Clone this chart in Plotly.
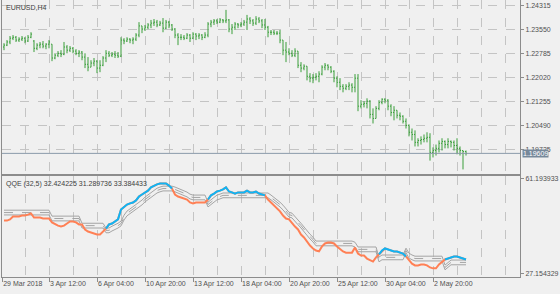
import plotly.graph_objects as go

# ---------------- data ----------------
open_ = [
    1.2299, 1.2305, 1.2315, 1.2327, 1.2330, 1.2321, 1.2324, 1.2327, 1.2318, 1.2330,
    1.2318, 1.2295, 1.2305, 1.2308, 1.2302, 1.2308, 1.2308, 1.2264, 1.2273, 1.2279,
    1.2276, 1.2299, 1.2289, 1.2295, 1.2286, 1.2279, 1.2283, 1.2267, 1.2244, 1.2235,
    1.2248, 1.2254, 1.2232, 1.2241, 1.2264, 1.2279, 1.2273, 1.2276, 1.2273, 1.2270,
    1.2321, 1.2318, 1.2324, 1.2321, 1.2324, 1.2337, 1.2366, 1.2356, 1.2362, 1.2369,
    1.2375, 1.2378, 1.2369, 1.2375, 1.2359, 1.2378, 1.2369, 1.2356, 1.2337, 1.2330,
    1.2330, 1.2327, 1.2337, 1.2327, 1.2340, 1.2334, 1.2337, 1.2330, 1.2337, 1.2372,
    1.2378, 1.2382, 1.2378, 1.2385, 1.2382, 1.2385, 1.2356, 1.2362, 1.2372, 1.2369,
    1.2372, 1.2378, 1.2388, 1.2382, 1.2375, 1.2388, 1.2382, 1.2369, 1.2362, 1.2346,
    1.2346, 1.2343, 1.2343, 1.2321, 1.2289, 1.2283, 1.2279, 1.2273, 1.2286, 1.2241,
    1.2232, 1.2238, 1.2206, 1.2200, 1.2203, 1.2206, 1.2213, 1.2235, 1.2241, 1.2235,
    1.2222, 1.2200, 1.2187, 1.2174, 1.2168, 1.2174, 1.2178, 1.2171, 1.2200, 1.2111,
    1.2117, 1.2120, 1.2127, 1.2085, 1.2072, 1.2104, 1.2123, 1.2133, 1.2130, 1.2111,
    1.2091, 1.2098, 1.2082, 1.2079, 1.2063, 1.2050, 1.2028, 1.2021, 1.1996, 1.2002,
    1.2005, 1.2009, 1.2012, 1.1964, 1.1970, 1.1977, 1.1993, 1.1999, 1.1989, 1.1999,
    1.1996, 1.1986, 1.1977, 1.1970, 1.1967,
]
high = [
    1.2311, 1.2321, 1.2334, 1.2337, 1.2334, 1.2330, 1.2334, 1.2330, 1.2337, 1.2346,
    1.2321, 1.2311, 1.2315, 1.2318, 1.2311, 1.2321, 1.2308, 1.2279, 1.2286, 1.2289,
    1.2315, 1.2305, 1.2302, 1.2299, 1.2292, 1.2289, 1.2286, 1.2279, 1.2267, 1.2257,
    1.2264, 1.2257, 1.2257, 1.2270, 1.2289, 1.2286, 1.2283, 1.2286, 1.2283, 1.2330,
    1.2327, 1.2330, 1.2327, 1.2330, 1.2343, 1.2378, 1.2366, 1.2369, 1.2375, 1.2385,
    1.2388, 1.2385, 1.2382, 1.2391, 1.2385, 1.2382, 1.2372, 1.2359, 1.2343, 1.2340,
    1.2337, 1.2343, 1.2340, 1.2346, 1.2343, 1.2343, 1.2340, 1.2346, 1.2378, 1.2385,
    1.2388, 1.2388, 1.2391, 1.2388, 1.2417, 1.2388, 1.2372, 1.2378, 1.2375, 1.2378,
    1.2385, 1.2401, 1.2394, 1.2388, 1.2397, 1.2394, 1.2388, 1.2388, 1.2366, 1.2353,
    1.2353, 1.2350, 1.2353, 1.2321, 1.2315, 1.2295, 1.2289, 1.2295, 1.2286, 1.2251,
    1.2244, 1.2238, 1.2216, 1.2213, 1.2216, 1.2222, 1.2241, 1.2248, 1.2244, 1.2238,
    1.2225, 1.2206, 1.2200, 1.2181, 1.2181, 1.2187, 1.2184, 1.2213, 1.2213, 1.2130,
    1.2127, 1.2136, 1.2130, 1.2104, 1.2111, 1.2130, 1.2136, 1.2136, 1.2133, 1.2117,
    1.2111, 1.2098, 1.2091, 1.2082, 1.2072, 1.2053, 1.2040, 1.2034, 1.2009, 1.2015,
    1.2021, 1.2028, 1.2025, 1.1980, 1.1989, 1.2002, 1.2009, 1.2002, 1.2009, 1.2002,
    1.2002, 1.2009, 1.1983, 1.1970, 1.1970,
]
low = [
    1.2289, 1.2302, 1.2308, 1.2321, 1.2315, 1.2315, 1.2318, 1.2311, 1.2315, 1.2327,
    1.2283, 1.2289, 1.2295, 1.2295, 1.2292, 1.2295, 1.2254, 1.2260, 1.2267, 1.2267,
    1.2273, 1.2279, 1.2283, 1.2279, 1.2273, 1.2267, 1.2257, 1.2232, 1.2222, 1.2235,
    1.2238, 1.2216, 1.2219, 1.2238, 1.2251, 1.2267, 1.2267, 1.2264, 1.2264, 1.2267,
    1.2308, 1.2315, 1.2311, 1.2308, 1.2318, 1.2330, 1.2343, 1.2350, 1.2356, 1.2359,
    1.2366, 1.2362, 1.2366, 1.2346, 1.2356, 1.2359, 1.2350, 1.2327, 1.2305, 1.2321,
    1.2321, 1.2324, 1.2315, 1.2324, 1.2321, 1.2324, 1.2321, 1.2327, 1.2330, 1.2362,
    1.2369, 1.2372, 1.2375, 1.2375, 1.2375, 1.2346, 1.2340, 1.2353, 1.2359, 1.2362,
    1.2366, 1.2353, 1.2372, 1.2366, 1.2369, 1.2375, 1.2359, 1.2353, 1.2330, 1.2337,
    1.2337, 1.2337, 1.2311, 1.2273, 1.2251, 1.2273, 1.2267, 1.2267, 1.2232, 1.2219,
    1.2225, 1.2193, 1.2187, 1.2184, 1.2193, 1.2187, 1.2209, 1.2225, 1.2225, 1.2216,
    1.2187, 1.2171, 1.2162, 1.2155, 1.2162, 1.2162, 1.2155, 1.2155, 1.2095, 1.2104,
    1.2107, 1.2104, 1.2072, 1.2056, 1.2072, 1.2098, 1.2117, 1.2120, 1.2098, 1.2079,
    1.2066, 1.2072, 1.2066, 1.2056, 1.2040, 1.2015, 1.2002, 1.1983, 1.1983, 1.1989,
    1.1996, 1.1996, 1.1938, 1.1948, 1.1954, 1.1964, 1.1970, 1.1977, 1.1977, 1.1980,
    1.1970, 1.1958, 1.1954, 1.1910, 1.1954,
]
close = [
    1.2305, 1.2315, 1.2327, 1.2330, 1.2321, 1.2324, 1.2327, 1.2318, 1.2330, 1.2340,
    1.2295, 1.2305, 1.2308, 1.2302, 1.2308, 1.2315, 1.2264, 1.2273, 1.2279, 1.2276,
    1.2299, 1.2289, 1.2295, 1.2286, 1.2279, 1.2283, 1.2267, 1.2244, 1.2235, 1.2248,
    1.2254, 1.2232, 1.2241, 1.2264, 1.2279, 1.2273, 1.2276, 1.2273, 1.2270, 1.2321,
    1.2318, 1.2324, 1.2321, 1.2324, 1.2337, 1.2366, 1.2356, 1.2362, 1.2369, 1.2375,
    1.2378, 1.2369, 1.2375, 1.2359, 1.2378, 1.2369, 1.2356, 1.2337, 1.2330, 1.2330,
    1.2327, 1.2337, 1.2327, 1.2340, 1.2334, 1.2337, 1.2330, 1.2337, 1.2372, 1.2378,
    1.2382, 1.2378, 1.2385, 1.2382, 1.2385, 1.2356, 1.2362, 1.2372, 1.2369, 1.2372,
    1.2378, 1.2388, 1.2382, 1.2375, 1.2388, 1.2382, 1.2369, 1.2362, 1.2346, 1.2346,
    1.2343, 1.2343, 1.2321, 1.2289, 1.2283, 1.2279, 1.2273, 1.2286, 1.2241, 1.2232,
    1.2238, 1.2206, 1.2200, 1.2203, 1.2206, 1.2213, 1.2235, 1.2241, 1.2235, 1.2222,
    1.2200, 1.2187, 1.2174, 1.2168, 1.2174, 1.2178, 1.2171, 1.2200, 1.2111, 1.2117,
    1.2120, 1.2127, 1.2085, 1.2072, 1.2104, 1.2123, 1.2133, 1.2130, 1.2111, 1.2091,
    1.2098, 1.2082, 1.2079, 1.2063, 1.2050, 1.2028, 1.2021, 1.1996, 1.2002, 1.2005,
    1.2009, 1.2012, 1.1964, 1.1970, 1.1977, 1.1993, 1.1999, 1.1989, 1.1999, 1.1996,
    1.1986, 1.1977, 1.1970, 1.1967, 1.19609,
]

qqe_main = [
    46.0, 46.0, 46.4, 47.4, 47.4, 47.4, 47.7, 47.7, 48.0, 48.4,
    47.0, 47.0, 47.0, 46.7, 46.7, 46.7, 45.4, 44.7, 44.3, 44.0,
    44.3, 45.0, 45.7, 45.7, 45.4, 44.7, 44.7, 43.0, 42.3, 42.0,
    41.6, 41.3, 41.3, 42.3, 43.3, 44.7, 45.0, 45.7, 46.4, 49.7,
    50.7, 51.4, 51.8, 52.1, 52.8, 54.1, 54.8, 55.5, 56.1, 57.2,
    57.8, 58.2, 58.5, 58.5, 58.5, 57.8, 56.8, 54.8, 54.1, 53.8,
    53.4, 53.1, 52.1, 51.8, 52.1, 52.1, 52.1, 52.1, 53.1, 54.5,
    55.1, 55.8, 56.1, 56.5, 57.2, 55.8, 55.5, 55.1, 55.5, 55.5,
    55.5, 56.1, 55.5, 55.5, 55.8, 55.1, 54.8, 54.5, 53.1, 52.1,
    51.4, 50.4, 49.1, 47.7, 46.7, 46.4, 45.0, 44.0, 43.0, 41.3,
    40.3, 38.9, 37.6, 36.6, 35.9, 35.6, 37.3, 38.3, 38.6, 38.6,
    38.3, 37.3, 36.3, 35.6, 35.2, 35.2, 35.2, 36.9, 34.9, 34.2,
    34.2, 33.2, 32.6, 32.2, 33.6, 34.6, 35.9, 36.6, 36.3, 35.9,
    35.6, 35.6, 35.2, 34.9, 33.9, 32.6, 31.5, 30.9, 30.9, 31.2,
    31.2, 30.9, 30.2, 29.9, 29.9, 31.2, 32.2, 32.9, 33.2, 33.6,
    33.9, 33.9, 33.6, 33.2, 32.9,
]
qqe_mid = [
    48.7, 48.7, 48.7, 48.7, 48.7, 48.7, 48.7, 48.7, 48.7, 48.7,
    48.7, 48.7, 48.7, 48.7, 48.7, 48.7, 46.7, 46.7, 46.7, 46.7,
    46.7, 46.7, 46.7, 46.7, 46.7, 46.7, 44.3, 44.3, 44.3, 44.3,
    44.3, 44.3, 44.3, 44.3, 42.7, 42.7, 43.3, 43.7, 44.3, 45.0,
    47.0, 48.4, 49.1, 49.7, 50.4, 51.1, 52.1, 53.1, 53.8, 54.5,
    55.5, 56.1, 56.5, 56.8, 56.8, 56.8, 56.8, 56.5, 56.1, 55.5,
    55.1, 54.8, 54.1, 53.8, 53.8, 53.8, 53.8, 53.8, 51.4, 52.1,
    53.1, 53.8, 54.1, 54.5, 54.5, 54.5, 54.5, 54.5, 54.5, 54.5,
    54.5, 54.5, 54.5, 54.5, 54.5, 54.5, 54.5, 54.5, 54.5, 53.8,
    53.1, 52.4, 51.4, 50.4, 49.1, 48.0, 47.7, 46.4, 45.4, 44.3,
    43.0, 42.0, 40.6, 39.6, 38.3, 38.3, 38.3, 38.3, 38.3, 38.3,
    38.3, 38.3, 38.3, 38.3, 38.3, 38.3, 38.3, 37.9, 36.3, 36.3,
    36.3, 36.3, 36.3, 36.3, 36.3, 32.9, 33.6, 33.6, 33.6, 33.6,
    33.6, 33.6, 33.6, 33.6, 35.9, 34.2, 33.6, 33.2, 33.2, 33.2,
    33.2, 33.2, 33.2, 33.2, 33.2, 33.2, 33.2, 30.2, 30.9, 31.9,
    31.9, 31.9, 31.9, 31.9, 31.9,
]
qqe_upper = [
    49.5, 49.5, 49.5, 49.5, 49.5, 49.5, 49.5, 49.5, 49.5, 49.5,
    49.5, 49.5, 49.5, 49.5, 49.5, 49.5, 47.5, 47.5, 47.5, 47.5,
    47.5, 47.5, 47.5, 47.5, 47.5, 47.5, 45.1, 45.1, 45.1, 45.1,
    45.1, 45.1, 45.1, 45.1, 43.5, 43.5, 44.1, 44.5, 45.1, 45.8,
    47.8, 49.2, 49.9, 50.5, 51.2, 51.9, 52.9, 53.9, 54.6, 55.3,
    56.3, 56.9, 57.3, 57.6, 57.6, 57.6, 57.6, 57.3, 56.9, 56.3,
    55.9, 55.6, 54.9, 54.6, 54.6, 54.6, 54.6, 54.6, 52.2, 52.9,
    53.9, 54.6, 54.9, 55.3, 55.3, 55.3, 55.3, 55.3, 55.3, 55.3,
    55.3, 55.3, 55.3, 55.3, 55.3, 55.3, 55.3, 55.3, 55.3, 54.6,
    53.9, 53.2, 52.2, 51.2, 49.9, 48.8, 48.5, 47.2, 46.2, 45.1,
    43.8, 42.8, 41.4, 40.4, 39.1, 39.1, 39.1, 39.1, 39.1, 39.1,
    39.1, 39.1, 39.1, 39.1, 39.1, 39.1, 39.1, 38.7, 37.1, 37.1,
    37.1, 37.1, 37.1, 37.1, 37.1, 33.7, 34.4, 34.4, 34.4, 34.4,
    34.4, 34.4, 34.4, 34.4, 36.7, 35.0, 34.4, 34.0, 34.0, 34.0,
    34.0, 34.0, 34.0, 34.0, 34.0, 34.0, 34.0, 31.0, 31.7, 32.7,
    32.7, 32.7, 32.7, 32.7, 32.7,
]
qqe_lower = [
    47.9, 47.9, 47.9, 47.9, 47.9, 47.9, 47.9, 47.9, 47.9, 47.9,
    47.9, 47.9, 47.9, 47.9, 47.9, 47.9, 45.9, 45.9, 45.9, 45.9,
    45.9, 45.9, 45.9, 45.9, 45.9, 45.9, 43.5, 43.5, 43.5, 43.5,
    43.5, 43.5, 43.5, 43.5, 41.9, 41.9, 42.5, 42.9, 43.5, 44.2,
    46.2, 47.6, 48.3, 48.9, 49.6, 50.3, 51.3, 52.3, 53.0, 53.7,
    54.7, 55.3, 55.7, 56.0, 56.0, 56.0, 56.0, 55.7, 55.3, 54.7,
    54.3, 54.0, 53.3, 53.0, 53.0, 53.0, 53.0, 53.0, 50.6, 51.3,
    52.3, 53.0, 53.3, 53.7, 53.7, 53.7, 53.7, 53.7, 53.7, 53.7,
    53.7, 53.7, 53.7, 53.7, 53.7, 53.7, 53.7, 53.7, 53.7, 53.0,
    52.3, 51.6, 50.6, 49.6, 48.3, 47.2, 46.9, 45.6, 44.6, 43.5,
    42.2, 41.2, 39.8, 38.8, 37.5, 37.5, 37.5, 37.5, 37.5, 37.5,
    37.5, 37.5, 37.5, 37.5, 37.5, 37.5, 37.5, 37.1, 35.5, 35.5,
    35.5, 35.5, 35.5, 35.5, 35.5, 32.1, 32.8, 32.8, 32.8, 32.8,
    32.8, 32.8, 32.8, 32.8, 35.1, 33.4, 32.8, 32.4, 32.4, 32.4,
    32.4, 32.4, 32.4, 32.4, 32.4, 32.4, 32.4, 29.4, 30.1, 31.1,
    31.1, 31.1, 31.1, 31.1, 31.1,
]
# bar-index ranges where the QQE line is drawn in the "up" colour
qqe_up_segments = [(34, 56), (68, 87), (125, 134), (147, 154)]

price_ticks = [1.24315, 1.23550, 1.22785, 1.22020, 1.21255, 1.20490, 1.19725]
qqe_scale = [27.154329, 61.193933]
date_labels = ["29 Mar 2018", "3 Apr 12:00", "6 Apr 04:00", "10 Apr 20:00", "13 Apr 12:00",
               "18 Apr 04:00", "20 Apr 20:00", "25 Apr 12:00", "30 Apr 04:00", "2 May 20:00"]
date_label_bars = [-0.6, 15, 31, 47, 63, 79, 95, 111, 127, 143]
grid_bars = list(range(7, 168, 8))
symbol_title = "EURUSD,H4"
qqe_title = "QQE (32,5) 32.424225 31.289736 33.384433"

# ---------------- style ----------------
W, H = 560, 294
BG = "#F0F0F0"
GRID = "#C4C4C4"
FRAME = "#8C8C8C"
TXT = "#505050"
GREEN = "#3A9E3A"
ORANGE = "#FF8055"
BLUE = "#10B4F4"
FONT = "Liberation Sans, Arial, sans-serif"
FS = 7

bars = list(range(len(close)))
xdom = [2 / W, 520 / W]
top_dom = [1 - 173.5 / H, 1]
bot_dom = [1 - 276.5 / H, 1 - 175.5 / H]
xrange_ = [-0.667, 172]

fig = go.Figure()
fig.add_trace(go.Ohlc(
    x=bars, open=open_, high=high, low=low, close=close,
    increasing=dict(line=dict(color=GREEN, width=1)),
    decreasing=dict(line=dict(color=GREEN, width=1)),
    tickwidth=0.34, xaxis="x", yaxis="y", hoverinfo="skip", showlegend=False))

for series, dash in ((qqe_upper, "solid"), (qqe_lower, "solid"), (qqe_mid, "dash")):
    fig.add_trace(go.Scatter(x=bars, y=series, mode="lines", xaxis="x2", yaxis="y2",
                             line=dict(color="#A4A4A4", width=1, dash=dash),
                             hoverinfo="skip", showlegend=False))

fig.add_trace(go.Scatter(x=bars, y=qqe_main, mode="lines", xaxis="x2", yaxis="y2",
                         line=dict(color=ORANGE, width=2), hoverinfo="skip", showlegend=False))
for a, b in qqe_up_segments:
    fig.add_trace(go.Scatter(x=bars[a:b + 1], y=qqe_main[a:b + 1], mode="lines",
                             xaxis="x2", yaxis="y2", line=dict(color=BLUE, width=2),
                             hoverinfo="skip", showlegend=False))

span = qqe_scale[1] - qqe_scale[0]
inset = span * 3 / 101

fig.update_layout(
    width=W, height=H, margin=dict(l=0, r=0, t=0, b=0, autoexpand=False),
    paper_bgcolor=BG, plot_bgcolor=BG,
    font=dict(family=FONT, size=FS, color=TXT),
    showlegend=False,
    xaxis=dict(domain=xdom, range=xrange_, anchor="y", rangeslider=dict(visible=False),
               tickvals=grid_bars, showticklabels=False, ticks="", automargin=False,
               showgrid=True, gridcolor=GRID, griddash="dash", gridwidth=1,
               zeroline=False, showline=True, linecolor=FRAME, linewidth=2, mirror=False),
    yaxis=dict(domain=top_dom, range=[1.18970, 1.24484], anchor="x", side="right",
               tickvals=price_ticks, ticktext=[f"{v:.5f}" for v in price_ticks],
               ticks="outside", ticklen=3, tickcolor=FRAME, automargin=False,
               showgrid=True, gridcolor=GRID, griddash="dash", gridwidth=1,
               zeroline=False, showline=True, linecolor=FRAME, linewidth=1, mirror=True),
    xaxis2=dict(domain=xdom, range=xrange_, anchor="y2", automargin=False,
                tickvals=date_label_bars, ticktext=date_labels, tickangle=0,
                ticklabelposition="outside right",
                ticks="outside", ticklen=4, tickcolor=FRAME, showgrid=False,
                minor=dict(tickvals=grid_bars, showgrid=True, gridcolor=GRID,
                           griddash="dash", ticks=""),
                zeroline=False, showline=True, linecolor=FRAME, linewidth=1, mirror=True),
    yaxis2=dict(domain=bot_dom, range=qqe_scale, anchor="x2", side="right", automargin=False,
                tickvals=[qqe_scale[1] - inset, qqe_scale[0] + inset],
                ticktext=[f"{qqe_scale[1]:.6f}", f"{qqe_scale[0]:.6f}"],
                ticks="outside", ticklen=3, tickcolor=FRAME, showgrid=False,
                zeroline=False, showline=True, linecolor=FRAME, linewidth=1, mirror=True),
    shapes=[dict(type="line", xref="x domain", yref="y", x0=0, x1=1,
                 y0=close[-1], y1=close[-1], line=dict(color="#8A9AAA", width=1))],
    annotations=[
        dict(text=symbol_title, xref="paper", yref="paper", x=4 / W, y=1 - 2 / H,
             xanchor="left", yanchor="top", showarrow=False,
             font=dict(family=FONT, size=FS, color="#404040")),
        dict(text=qqe_title, xref="paper", yref="paper", x=4 / W, y=1 - 178 / H,
             xanchor="left", yanchor="top", showarrow=False,
             font=dict(family=FONT, size=FS, color="#404040")),
        dict(text=f"{close[-1]:.5f}", xref="paper", yref="y", x=522 / W, y=close[-1],
             xanchor="left", yanchor="middle", showarrow=False, bgcolor="#76889A",
             borderpad=0, font=dict(family=FONT, size=FS, color="#FFFFFF")),
    ],
)

fig.write_html("out.html")
